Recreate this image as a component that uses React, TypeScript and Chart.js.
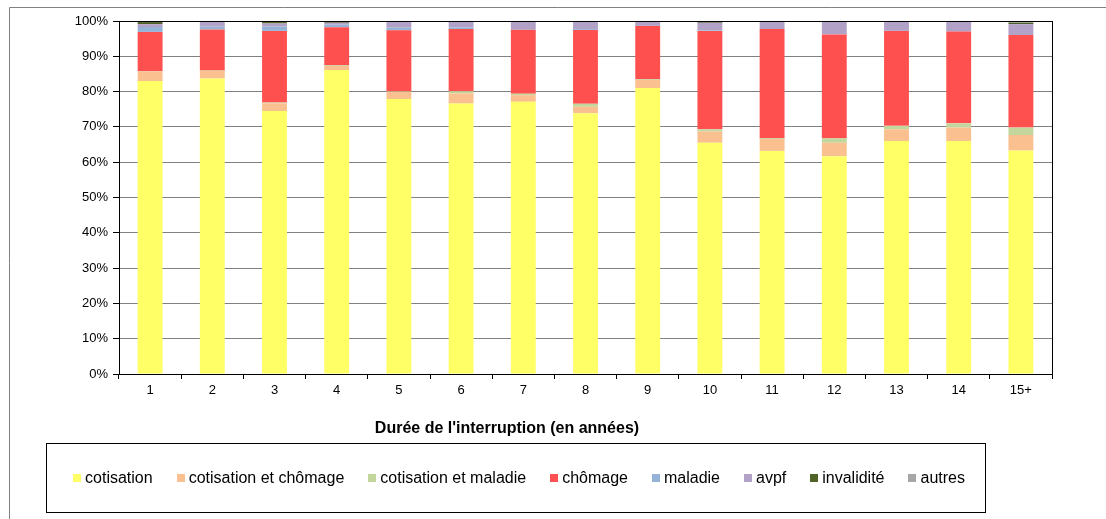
import React, { useEffect, useRef } from "react";
import { Chart, registerables } from "chart.js";

Chart.register(...registerables);

const categories = ["1", "2", "3", "4", "5", "6", "7", "8", "9", "10", "11", "12", "13", "14", "15+"];

const cotisation = [83.0, 83.7, 74.5, 86.1, 77.9, 76.6, 77.1, 73.9, 81.0, 65.5, 63.2, 61.7, 66.0, 66.0, 63.3];
const cotisationChomage = [2.7, 2.2, 2.2, 1.2, 2.0, 2.9, 1.9, 1.8, 2.3, 3.2, 3.4, 3.8, 3.3, 3.8, 4.4];
const cotisationMaladie = [0.1, 0.1, 0.2, 0.2, 0.15, 0.6, 0.4, 0.85, 0.2, 0.6, 0.2, 1.3, 1.0, 1.2, 2.1];
const chomage = [11.1, 11.6, 20.3, 10.7, 17.3, 17.6, 18.1, 20.9, 15.1, 27.9, 30.9, 29.4, 26.9, 26.0, 26.2];
const maladie = [1.4, 0.8, 1.2, 0.75, 0.75, 0.5, 0.2, 0.25, 0.0, 0.2, 0.0, 0.0, 0.0, 0.0, 0.0];
const avpf = [0.8, 1.6, 0.9, 0.55, 1.9, 1.6, 2.3, 2.3, 1.4, 2.1, 2.2, 3.7, 2.7, 2.9, 3.1];
const invalidite = [0.6, 0.0, 0.4, 0.45, 0.0, 0.0, 0.0, 0.0, 0.0, 0.4, 0.1, 0.0, 0.0, 0.0, 0.4];
const autres = [0.3, 0.0, 0.3, 0.0, 0.0, 0.0, 0.0, 0.0, 0.0, 0.2, 0.0, 0.0, 0.0, 0.0, 0.3];

const seriesLabels = [
  "cotisation",
  "cotisation et chômage",
  "cotisation et maladie",
  "chômage",
  "maladie",
  "avpf",
  "invalidité",
  "autres",
];
const seriesValues = [cotisation, cotisationChomage, cotisationMaladie, chomage, maladie, avpf, invalidite, autres];
const seriesColors = ["#FFFF66", "#FAC090", "#C3D69B", "#FF5050", "#95B3D7", "#B3A2C7", "#4F6228", "#A6A6A6"];

const yTicks = [0, 10, 20, 30, 40, 50, 60, 70, 80, 90, 100];
const xAxisTitle = "Durée de l'interruption (en années)";

const FONT = "'Liberation Sans', Arial, sans-serif";

const decorPlugin = {
  id: "decor",
  afterDraw(chart: any) {
    const ctx = chart.ctx as CanvasRenderingContext2D;
    const a = chart.chartArea;
    ctx.save();
    // plot border
    ctx.strokeStyle = "#000";
    ctx.lineWidth = 1;
    ctx.strokeRect(Math.round(a.left) + 0.5, Math.round(a.top) + 0.5, Math.round(a.right - a.left), Math.round(a.bottom - a.top));

    // outer frame
    ctx.strokeStyle = "#808080";
    ctx.beginPath();
    ctx.moveTo(9.5, 519);
    ctx.lineTo(9.5, 7.5);
    ctx.lineTo(1106, 7.5);
    ctx.stroke();

    // axis title
    ctx.fillStyle = "#000";
    ctx.font = `bold 16px ${FONT}`;
    ctx.textAlign = "center";
    ctx.textBaseline = "middle";
    ctx.fillText(xAxisTitle, 507, 429);

    // legend box
    ctx.strokeStyle = "#000";
    ctx.strokeRect(46.5, 443.5, 939, 69);
    ctx.font = `16px ${FONT}`;
    ctx.textAlign = "left";
    const ds = chart.data.datasets;
    const sq = 8, gapText = 4, gapItem = 24;
    const widths = ds.map((d: any) => ctx.measureText(d.label).width);
    let total = 0;
    widths.forEach((w: number, i: number) => {
      total += sq + gapText + w + (i < widths.length - 1 ? gapItem : 0);
    });
    let x = 519 - total / 2;
    const cy = 478;
    ds.forEach((d: any, i: number) => {
      ctx.fillStyle = d.backgroundColor;
      ctx.fillRect(Math.round(x), cy - 4, sq, sq);
      ctx.fillStyle = "#000";
      ctx.fillText(d.label, x + sq + gapText, cy + 1);
      x += sq + gapText + widths[i] + gapItem;
    });
    ctx.restore();
  },
};

export default function App() {
  const ref = useRef<HTMLCanvasElement | null>(null);
  useEffect(() => {
    document.body.style.margin = "0";
    const canvas = ref.current!;
    const chart = new Chart(canvas, {
      type: "bar",
      data: {
        labels: categories,
        datasets: seriesLabels.map((label, i) => ({
          label,
          data: seriesValues[i],
          backgroundColor: seriesColors[i],
          borderWidth: 0,
          barPercentage: 0.4,
          categoryPercentage: 1,
        })),
      },
      options: {
        animation: false,
        responsive: false,
        maintainAspectRatio: false,
        layout: { padding: { left: 0, top: 21, right: 54, bottom: 0 } },
        plugins: {
          legend: { display: false },
          title: { display: false },
          tooltip: { enabled: false },
        },
        scales: {
          x: {
            stacked: true,
            grid: { offset: true, drawOnChartArea: false, drawTicks: true, tickLength: 5, color: "#000" },
            border: { color: "#000" },
            ticks: { color: "#000", font: { family: FONT, size: 13 }, padding: 4, maxRotation: 0 },
            afterFit: (s: any) => {
              s.height = 145;
            },
          },
          y: {
            stacked: true,
            min: 0,
            max: 100,
            afterBuildTicks: (s: any) => {
              s.ticks = yTicks.map((v) => ({ value: v }));
            },
            grid: {
              color: (c: any) => (c.tick && c.tick.value === 100 ? "#000" : "#808080"),
              tickColor: "#000",
              tickLength: 6,
            },
            border: { color: "#000" },
            ticks: {
              color: "#000",
              font: { family: FONT, size: 13 },
              padding: 5,
              callback: (v: any) => v + "%",
            },
            afterFit: (s: any) => {
              s.width = 119;
            },
          },
        },
      },
      plugins: [decorPlugin],
    });
    return () => chart.destroy();
  }, []);
  return (
    <div style={{ width: 1106, height: 519 }}>
      <canvas ref={ref} width={1106} height={519} style={{ width: 1106, height: 519, display: "block" }} />
    </div>
  );
}
